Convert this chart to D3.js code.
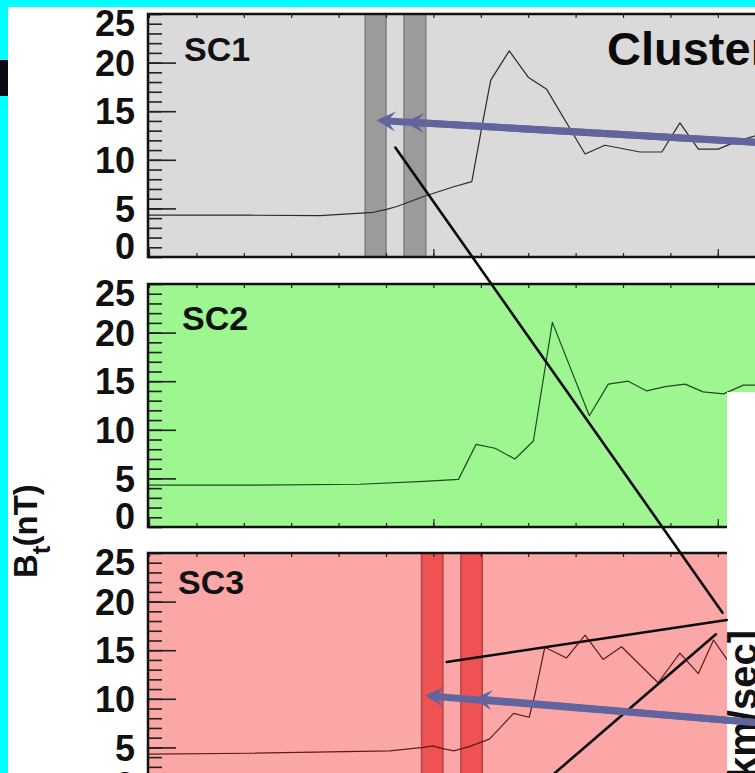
<!DOCTYPE html>
<html>
<head>
<meta charset="utf-8">
<script src="https://cdn.jsdelivr.net/npm/d3@7/dist/d3.min.js"></script>
<style>
  html, body { margin: 0; padding: 0; background: #00ffff; overflow: hidden; }
  svg { display: block; }
  text { font-family: "Liberation Sans", Arial, Helvetica, sans-serif; font-weight: bold; }
</style>
</head>
<body>
<svg id="chart" width="755" height="773"></svg>
<script>
// Magnetic field magnitude Bt (nT) at three Cluster spacecraft, hours on the x axis.
const panelNames = ["SC1", "SC2", "SC3"];

const sc1Time = [0, 2.13, 3.61, 4.73, 5.01, 5.23, 5.78, 6.41, 6.81, 7.05, 7.21, 7.60, 8.00, 8.39, 9.20, 9.62, 10.36, 10.82, 11.20, 11.59, 12.01, 12.40, 12.89];
const sc1Bt   = [4.3, 4.3, 4.25, 4.6, 4.9, 5.2, 6.2, 7.2, 7.75, 14.1, 18.2, 21.2, 18.5, 17.25, 10.6, 11.5, 10.8, 10.8, 13.8, 11.1, 11.1, 11.9, 12.6];

const sc2Time = [0, 2.13, 4.45, 5.79, 6.53, 6.90, 7.30, 7.72, 8.11, 8.51, 9.29, 9.69, 10.11, 10.50, 10.89, 11.31, 11.69, 12.12, 12.54, 12.89];
const sc2Bt   = [4.3, 4.3, 4.4, 4.7, 4.9, 8.5, 8.1, 7.0, 8.85, 21.05, 11.45, 14.7, 15.0, 14.0, 14.45, 14.7, 13.9, 13.7, 14.6, 14.6];

const sc3Time = [0, 2.13, 5.08, 5.79, 5.98, 6.18, 6.43, 6.77, 7.18, 7.51, 7.69, 8.02, 8.14, 8.35, 8.81, 9.20, 9.58, 9.97, 10.74, 11.20, 11.59, 11.91, 12.20, 12.50];
const sc3Bt   = [4.3, 4.4, 4.65, 5.0, 5.15, 4.9, 4.65, 5.1, 5.85, 7.55, 8.5, 8.1, 10.4, 15.3, 14.2, 16.55, 14.05, 15.35, 11.65, 14.7, 12.6, 16.05, 14.0, 12.5];

// shaded intervals (start, end) in hours
const sc1Bands = [[4.56, 5.00], [5.38, 5.84]];
const sc2Bands = [];
const sc3Bands = [[5.75, 6.20], [6.58, 7.03]];

const yTicks = [0, 5, 10, 15, 20, 25];
const yMinorTicks = d3.range(0, 26, 1);
const xMinorTicks = d3.range(0, 14, 1);
const xMajorTicks = [0, 6, 12];

// straight connector lines between panels: [panel, hour, nT]
const connectors = [
  [[0, 5.20, 11.25], [2, 12.10, 18.86]],
  [[2, 6.28, 13.79], [2, 12.19, 18.11]],
  [[2, 11.96, 16.64], [2, 8.00, 0.0]]
];
// arrows: start point and the two band targets, [panel, hour, nT]
const arrows = [
  { from: [0, 12.89, 11.78], to: [[0, 4.80, 14.06], [0, 5.40, 13.90]] },
  { from: [2, 12.89, 7.51],  to: [[2, 5.82, 10.34], [2, 6.84, 10.02]] }
];

// ---- layout ----
const panelTops = [14, 284, 553];
const panelH = 243;
const plotLeft = 148;
const plotRight = 800;
const panelFill = ["#dadada", "#9df690", "#fba7a7"];
const lineColor = ["#2b2b2b", "#1e4a1e", "#5e1a1a"];
const bandFill = ["#9b9b9b", "#999", "#ef5252"];
const bandEdge = ["#7e7e7e", "#777", "#b64444"];
const labelPos = [[184, 47], [182, 46], [178, 41]];

const svg = d3.select("#chart");
const x = d3.scaleLinear().domain([0, 13]).range([149, 149 + 13 * 47.4]);
const yScales = panelTops.map(t => d3.scaleLinear().domain([0, 25]).range([t + panelH, t]));
const series = [[sc1Time, sc1Bt], [sc2Time, sc2Bt], [sc3Time, sc3Bt]];
const bands = [sc1Bands, sc2Bands, sc3Bands];

// page frame
svg.append("rect").attr("x", 8).attr("y", 7).attr("width", 760).attr("height", 780).attr("fill", "#fff");
svg.append("rect").attr("x", 0).attr("y", 60).attr("width", 8).attr("height", 36).attr("fill", "#0a0a14");

const defs = svg.append("defs");

panelNames.forEach((name, i) => {
  const y = yScales[i];
  const top = panelTops[i];
  const g = svg.append("g");
  defs.append("clipPath").attr("id", "clip" + i)
    .append("rect").attr("x", plotLeft).attr("y", top).attr("width", plotRight - plotLeft).attr("height", panelH);

  g.append("rect").attr("x", plotLeft).attr("y", top).attr("width", plotRight - plotLeft).attr("height", panelH)
    .attr("fill", panelFill[i]);

  const body = g.append("g").attr("clip-path", `url(#clip${i})`);
  body.selectAll("rect.band").data(bands[i]).join("rect")
    .attr("class", "band")
    .attr("x", d => x(d[0])).attr("y", top)
    .attr("width", d => x(d[1]) - x(d[0])).attr("height", panelH)
    .attr("fill", bandFill[i]).attr("stroke", bandEdge[i]).attr("stroke-width", 1.5);

  const pts = series[i][0].map((t, k) => [t, series[i][1][k]]);
  body.append("path").datum(pts)
    .attr("fill", "none").attr("stroke", lineColor[i]).attr("stroke-width", 1.2)
    .attr("stroke-linejoin", "round")
    .attr("d", d3.line().x(d => x(d[0])).y(d => y(d[1])));

  // y ticks pointing into the plot
  const minor = g.append("g").attr("transform", `translate(${plotLeft},0)`)
    .call(d3.axisRight(y).tickValues(yMinorTicks).tickSize(14).tickFormat(""));
  const major = g.append("g").attr("transform", `translate(${plotLeft},0)`)
    .call(d3.axisRight(y).tickValues(yTicks.slice(1, -1)).tickSize(28).tickFormat(""));
  [minor, major].forEach(a => {
    a.select(".domain").remove();
    a.selectAll("line").attr("stroke", "#222").attr("stroke-width", 1.6);
  });

  // y tick labels; the end labels sit just inside the panel
  const lab = g.append("g").attr("transform", `translate(${plotLeft},0)`)
    .call(d3.axisLeft(y).tickValues(yTicks).tickSize(0).tickPadding(13));
  lab.select(".domain").remove();
  lab.selectAll("text")
    .attr("font-size", 36).attr("font-family", "Liberation Sans, Arial, sans-serif")
    .attr("font-weight", "bold").attr("fill", "#111")
    .attr("dy", d => d === 25 ? "0.6em" : d === 0 ? "0.04em" : "0.35em");

  // x ticks on top and bottom edges
  const bottomAx = g.append("g").attr("transform", `translate(0,${top + panelH})`)
    .call(d3.axisTop(x).tickValues(xMinorTicks).tickSize(4).tickFormat(""));
  const topAx = g.append("g").attr("transform", `translate(0,${top})`)
    .call(d3.axisBottom(x).tickValues(xMinorTicks).tickSize(4).tickFormat(""));
  const bottomMaj = g.append("g").attr("transform", `translate(0,${top + panelH})`)
    .call(d3.axisTop(x).tickValues(xMajorTicks).tickSize(8).tickFormat(""));
  [bottomAx, topAx, bottomMaj].forEach(a => {
    a.select(".domain").remove();
    a.selectAll("line").attr("stroke", "#222").attr("stroke-width", 1.2);
  });

  g.append("rect").attr("x", plotLeft).attr("y", top).attr("width", plotRight - plotLeft).attr("height", panelH)
    .attr("fill", "none").attr("stroke", "#111").attr("stroke-width", 2.5);

  g.append("text").attr("x", labelPos[i][0]).attr("y", top + labelPos[i][1])
    .attr("font-size", 34).attr("fill", "#111").text(name);
});

// title (runs off the right edge)
svg.append("text").attr("x", 607).attr("y", 65).attr("font-size", 47).attr("fill", "#0a0a0a").text("Cluster");

// y-axis title
const yt = svg.append("text").attr("transform", "translate(37,578) rotate(-90)")
  .attr("font-size", 33).attr("fill", "#111");
yt.append("tspan").text("B");
yt.append("tspan").attr("font-size", 26).attr("dy", 13).text("t");
yt.append("tspan").attr("dy", -13).attr("dx", -1).text("(nT)");

// neighbouring figure area on the lower right
svg.append("rect").attr("x", 727).attr("y", 392).attr("width", 60).attr("height", 400).attr("fill", "#fff");
svg.append("text").attr("transform", "translate(757,630) rotate(-90)")
  .attr("text-anchor", "end").attr("font-size", 40).attr("fill", "#111").text("[km/sec]");

const pt = p => [x(p[1]), yScales[p[0]](p[2])];

// connector lines
svg.selectAll("line.conn").data(connectors).join("line")
  .attr("class", "conn")
  .attr("x1", d => pt(d[0])[0]).attr("y1", d => pt(d[0])[1])
  .attr("x2", d => pt(d[1])[0]).attr("y2", d => pt(d[1])[1])
  .attr("stroke", "#0a0a0a").attr("stroke-width", 2.6).attr("stroke-linecap", "round");

// arrows
const arrowColor = "#62659d";
arrows.forEach(a => {
  const [sx, sy] = pt(a.from);
  a.to.forEach(tp => {
    const [tx, ty] = pt(tp);
    const ang = Math.atan2(sy - ty, sx - tx);
    const ux = Math.cos(ang), uy = Math.sin(ang);
    const L = 19, W = 10, N = 11;
    svg.append("line")
      .attr("x1", sx).attr("y1", sy).attr("x2", tx + ux * N).attr("y2", ty + uy * N)
      .attr("stroke", arrowColor).attr("stroke-width", 7);
    const head = [
      [tx, ty],
      [tx + ux * L - uy * W, ty + uy * L + ux * W],
      [tx + ux * N, ty + uy * N],
      [tx + ux * L + uy * W, ty + uy * L - ux * W]
    ];
    svg.append("path").attr("d", "M" + head.map(p => p.join(",")).join("L") + "Z")
      .attr("fill", arrowColor);
  });
});
</script>
</body>
</html>
